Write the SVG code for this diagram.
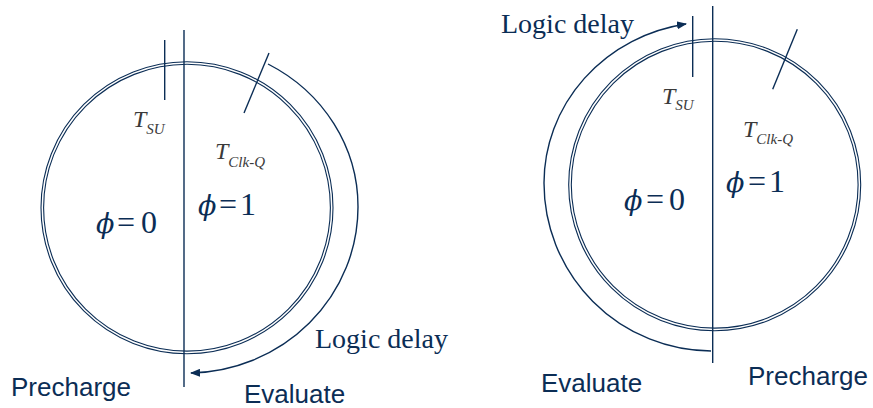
<svg xmlns="http://www.w3.org/2000/svg" width="873" height="408" viewBox="0 0 873 408">
<style>
.ln{stroke:#0b2d55;stroke-width:1.4;fill:none}
.dbl{stroke:#0b2d55;stroke-width:1.1;fill:none}
.t{font-family:"Liberation Serif",serif;font-style:italic;fill:#3a3a3a}
.big{font-family:"Liberation Serif",serif;fill:#0b2d55;font-size:32px}
.phi{font-family:"DejaVu Serif",serif;font-style:italic;font-size:27px}
.ser{font-family:"Liberation Serif",serif;fill:#0b2d55;font-size:28px}
.sans{font-family:"Liberation Sans",sans-serif;fill:#0b2d55;font-size:26px}
</style>
<defs>
<marker id="ah" markerWidth="10" markerHeight="8" refX="9" refY="4" orient="auto" markerUnits="userSpaceOnUse">
<path d="M0,0 L10,4 L0,8 Z" fill="#0b2d55"/>
</marker>
</defs>
<rect width="873" height="408" fill="#fff"/>
<g id="left-cycle">
<circle class="dbl" cx="187" cy="207.7" r="146"/>
<circle class="dbl" cx="187" cy="207.7" r="143.4"/>
<line class="ln" x1="184" y1="30" x2="184" y2="387"/>
<line class="ln" x1="164.7" y1="40" x2="164.7" y2="100"/>
<line class="ln" x1="269" y1="53" x2="244" y2="113"/>
<text class="t" x="133" y="127" font-size="24">T<tspan font-size="15" dy="7">SU</tspan></text>
<text class="t" x="215" y="159" font-size="24">T<tspan font-size="15" dy="8">Clk-Q</tspan></text>
<text class="big" y="233"><tspan class="phi" x="96">ϕ</tspan><tspan x="117">=</tspan><tspan x="141">0</tspan></text>
<text class="big" y="215"><tspan class="phi" x="198">ϕ</tspan><tspan x="219">=</tspan><tspan x="240">1</tspan></text>
<text class="ser" x="315" y="348">Logic delay</text>
<text class="sans" x="11" y="396">Precharge</text>
<text class="sans" x="244" y="403">Evaluate</text>
</g>
<g id="right-cycle">
<circle class="dbl" cx="714.7" cy="184.7" r="146"/>
<circle class="dbl" cx="714.7" cy="184.7" r="143.4"/>
<line class="ln" x1="712.7" y1="6" x2="712.7" y2="363"/>
<line class="ln" x1="692.7" y1="16" x2="692.7" y2="77"/>
<line class="ln" x1="797.3" y1="29.3" x2="772.7" y2="89.3"/>
<text class="t" x="662" y="104" font-size="24">T<tspan font-size="15" dy="6">SU</tspan></text>
<text class="t" x="743" y="137" font-size="24">T<tspan font-size="15" dy="7">Clk-Q</tspan></text>
<text class="big" y="210"><tspan class="phi" x="624">ϕ</tspan><tspan x="646">=</tspan><tspan x="669">0</tspan></text>
<text class="big" y="192"><tspan class="phi" x="726">ϕ</tspan><tspan x="748">=</tspan><tspan x="769">1</tspan></text>
<text class="ser" x="501" y="33">Logic delay</text>
<text class="sans" x="541" y="392">Evaluate</text>
<text class="sans" x="748" y="385">Precharge</text>
</g>
<g id="connectors">
<path class="ln" d="M268,64 A171 162 0 0 1 358,207 A171 166 0 0 1 191,373" marker-end="url(#ah)"/>
<path class="ln" d="M711,351 A168 168 0 0 1 544,183 A168 161 0 0 1 686,24" marker-end="url(#ah)"/>
</g>
</svg>
